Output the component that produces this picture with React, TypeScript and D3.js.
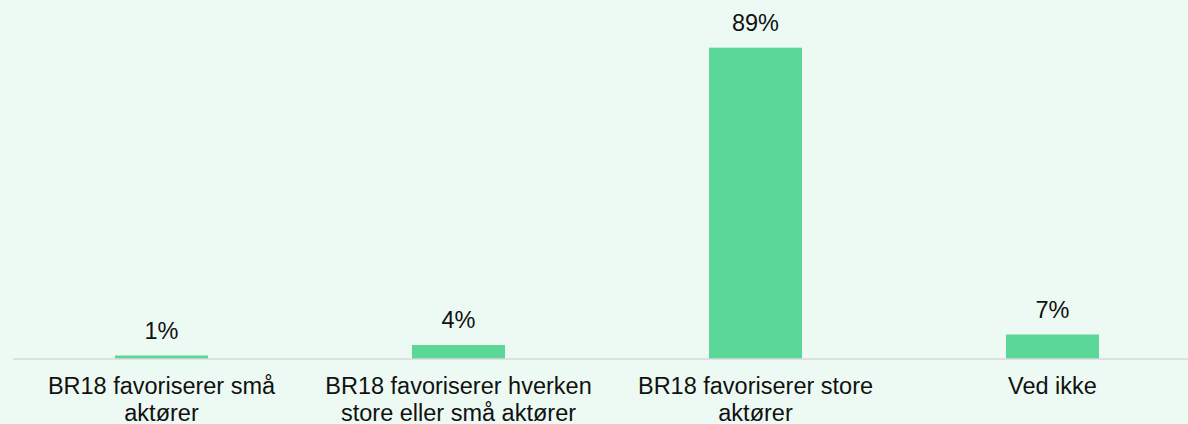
import React from "react";
import * as d3 from "d3";

const categories = [
  ["BR18 favoriserer små", "aktører"],
  ["BR18 favoriserer hverken", "store eller små aktører"],
  ["BR18 favoriserer store", "aktører"],
  ["Ved ikke"],
];
const values = [1, 4, 89, 7];
const labels = ["1%", "4%", "89%", "7%"];

const W = 1188;
const H = 424;

export default function App() {
  const left = 13;
  const step = 297;
  const baseline = 359;
  const x = d3
    .scaleBand<number>()
    .domain(d3.range(values.length))
    .range([left, left + step * values.length])
    .paddingInner((297 - 93) / 297)
    .paddingOuter(((297 - 93) / 297) / 2);
  const y = d3.scaleLinear().domain([0, 89]).range([baseline, 47.7]);
  const font = "'Liberation Sans', Arial, sans-serif";
  return (
    <svg
      width={W}
      height={H}
      style={{ position: "absolute", left: 0, top: 0, background: "#ECFAF3" }}
    >
      <rect x={0} y={0} width={W} height={H} fill="#ECFAF3" />
      {values.map((v, i) => (
        <rect
          key={i}
          x={x(i)}
          y={y(v)}
          width={x.bandwidth()}
          height={baseline - y(v)}
          fill="#5BD897"
        />
      ))}
      <line x1={left} x2={W} y1={baseline} y2={baseline} stroke="#D9D9D9" strokeWidth={1.5} />
      {values.map((v, i) => (
        <text
          key={i}
          x={(x(i) as number) + x.bandwidth() / 2}
          y={y(v) - 17}
          textAnchor="middle"
          fontFamily={font}
          fontSize={23.5}
          fill="#111"
        >
          {labels[i]}
        </text>
      ))}
      {categories.map((lines, i) => (
        <text
          key={i}
          x={(x(i) as number) + x.bandwidth() / 2}
          textAnchor="middle"
          fontFamily={font}
          fontSize={23.5}
          fill="#111"
        >
          {lines.map((l, j) => (
            <tspan key={j} x={(x(i) as number) + x.bandwidth() / 2} y={394 + j * 27}>
              {l}
            </tspan>
          ))}
        </text>
      ))}
    </svg>
  );
}
